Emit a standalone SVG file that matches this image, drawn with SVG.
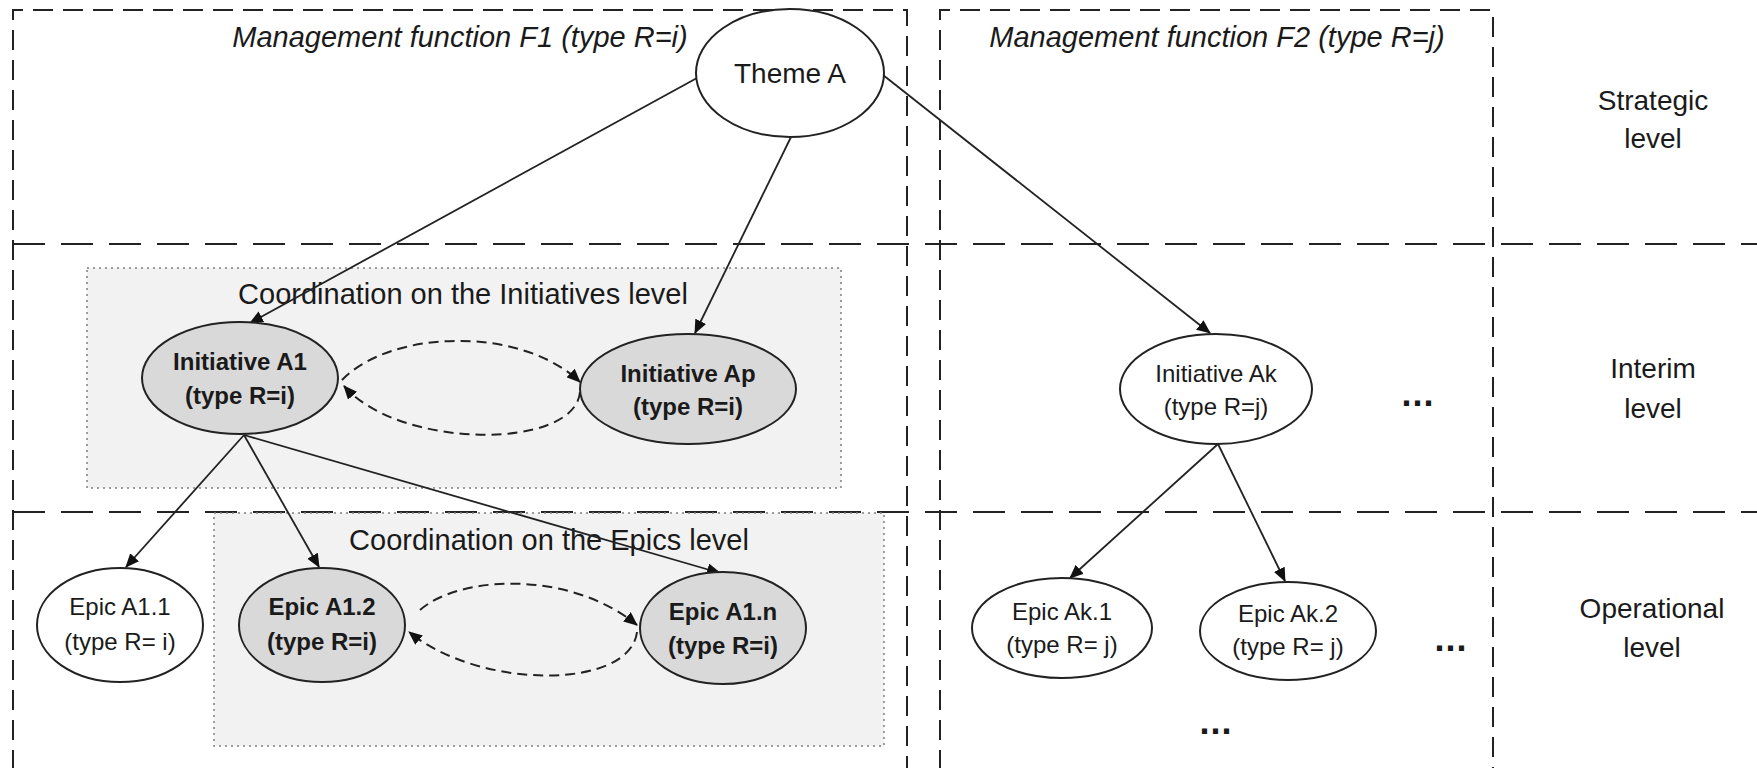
<svg xmlns="http://www.w3.org/2000/svg" width="1757" height="768" viewBox="0 0 1757 768">
<defs>
<marker id="arr" markerWidth="14" markerHeight="12" refX="13" refY="6" orient="auto" markerUnits="userSpaceOnUse"><path d="M0,0 L14,6 L0,12 z" fill="#111"/></marker>
</defs>
<style>
.t{font-family:"Liberation Sans",Arial,sans-serif;fill:#1a1a1a;text-anchor:middle}
.it{font-style:italic;font-size:29px}
.lvl{font-size:28px}
.coord{font-size:29px}
.nb{font-size:24px;font-weight:bold}
.nr{font-size:24px}
.box{fill:none;stroke:#222;stroke-width:2;stroke-dasharray:20,10}
.lvlline{fill:none;stroke:#222;stroke-width:2;stroke-dasharray:32,16}
.cbox{fill:#f2f2f2;stroke:#7f7f7f;stroke-width:1.5;stroke-dasharray:2,4}
.ew{fill:#fff;stroke:#222;stroke-width:2}
.eg{fill:#d9d9d9;stroke:#222;stroke-width:2}
.c{fill:none;stroke:#222;stroke-width:1.8;marker-end:url(#arr)}
.d{fill:none;stroke:#222;stroke-width:2;stroke-dasharray:10,6;marker-end:url(#arr)}
.dots{font-size:36px;font-weight:bold;letter-spacing:1px}
</style>
<rect x="0" y="0" width="1757" height="768" fill="#fff"/>

<g id="frames">
<path class="box" d="M13,770 V10 H907 V770"/>
<path class="box" d="M940,770 V10 H1493 V770"/>
<line class="lvlline" x1="13" y1="244" x2="1757" y2="244"/>
<line class="lvlline" x1="13" y1="512" x2="1757" y2="512"/>
<text class="t it" x="460" y="47">Management function F1 (type R=i)</text>
<text class="t it" x="1217" y="47">Management function F2 (type R=j)</text>
</g>

<g id="levels">
<text class="t lvl" x="1653" y="110">Strategic</text>
<text class="t lvl" x="1653" y="148">level</text>
<text class="t lvl" x="1653" y="378">Interim</text>
<text class="t lvl" x="1653" y="418">level</text>
<text class="t lvl" x="1652" y="618">Operational</text>
<text class="t lvl" x="1652" y="657">level</text>
</g>

<g id="coord-initiatives">
<rect class="cbox" x="87" y="268" width="754" height="220"/>
<text class="t coord" x="463" y="304">Coordination on the Initiatives level</text>
</g>

<g id="coord-epics">
<rect class="cbox" x="214" y="513" width="670" height="233"/>
<text class="t coord" x="549" y="550">Coordination on the Epics level</text>
</g>

<g id="connectors">
<line class="c" x1="697" y1="78" x2="250" y2="323"/>
<line class="c" x1="791" y1="137" x2="695" y2="333"/>
<line class="c" x1="883" y1="75" x2="1210" y2="333"/>
<line class="c" x1="244" y1="435" x2="126" y2="567"/>
<line class="c" x1="244" y1="435" x2="319" y2="567"/>
<line class="c" x1="244" y1="435" x2="720" y2="573"/>
<line class="c" x1="1218" y1="444" x2="1070" y2="578"/>
<line class="c" x1="1218" y1="444" x2="1285" y2="581"/>
<path class="d" d="M342,380 C390,330 520,325 580,382"/>
<path class="d" d="M580,392 C575,450 400,450 344,386"/>
<path class="d" d="M420,610 C460,575 570,570 637,625"/>
<path class="d" d="M637,632 C630,690 480,690 409,632"/>
</g>

<g id="theme-a">
<ellipse class="ew" cx="790" cy="73" rx="94" ry="64"/>
<text class="t" style="font-size:28px" x="790" y="83">Theme A</text>
</g>

<g id="initiative-a1">
<ellipse class="eg" cx="240" cy="378" rx="98" ry="56"/>
<text class="t nb" x="240" y="370">Initiative A1</text>
<text class="t nb" x="240" y="404">(type R=i)</text>
</g>

<g id="initiative-ap">
<ellipse class="eg" cx="688" cy="389" rx="108" ry="55"/>
<text class="t nb" x="688" y="382">Initiative Ap</text>
<text class="t nb" x="688" y="415">(type R=i)</text>
</g>

<g id="initiative-ak">
<ellipse class="ew" cx="1216" cy="389" rx="96" ry="55"/>
<text class="t nr" x="1216" y="382">Initiative Ak</text>
<text class="t nr" x="1216" y="415">(type R=j)</text>
</g>

<g id="epic-a1-1">
<ellipse class="ew" cx="120" cy="625" rx="83" ry="57"/>
<text class="t nr" x="120" y="615">Epic A1.1</text>
<text class="t nr" x="120" y="650">(type R= i)</text>
</g>

<g id="epic-a1-2">
<ellipse class="eg" cx="322" cy="625" rx="83" ry="57"/>
<text class="t nb" x="322" y="615">Epic A1.2</text>
<text class="t nb" x="322" y="650">(type R=i)</text>
</g>

<g id="epic-a1-n">
<ellipse class="eg" cx="723" cy="628" rx="83" ry="56"/>
<text class="t nb" x="723" y="620">Epic A1.n</text>
<text class="t nb" x="723" y="654">(type R=i)</text>
</g>

<g id="epic-ak-1">
<ellipse class="ew" cx="1062" cy="628" rx="90" ry="50"/>
<text class="t nr" x="1062" y="620">Epic Ak.1</text>
<text class="t nr" x="1062" y="653">(type R= j)</text>
</g>

<g id="epic-ak-2">
<ellipse class="ew" cx="1288" cy="631" rx="88" ry="49"/>
<text class="t nr" x="1288" y="622">Epic Ak.2</text>
<text class="t nr" x="1288" y="655">(type R= j)</text>
</g>

<g id="ellipsis-marks">
<text class="t dots" x="1418" y="406">...</text>
<text class="t dots" x="1451" y="651">...</text>
<text class="t dots" x="1216" y="734">...</text>
</g>
</svg>
